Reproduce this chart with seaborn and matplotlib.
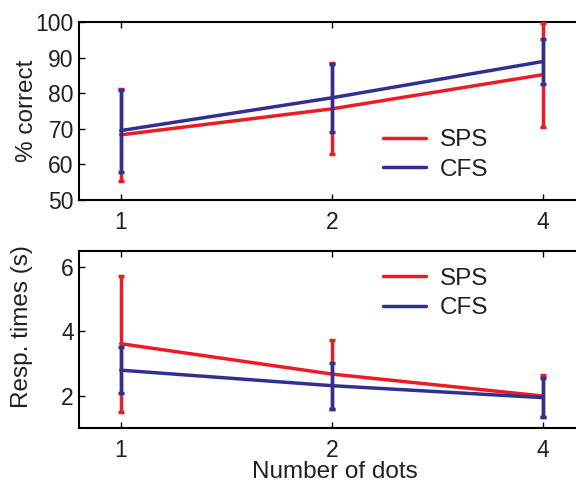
import numpy as np
import pandas as pd
import matplotlib
matplotlib.use("Agg")
import matplotlib.pyplot as plt
import seaborn as sns

# ---- data ----
dots = [1, 2, 4]
conditions = ["SPS", "CFS"]
acc_sps = [68.3, 75.6, 85.2]
acc_sps_err = [12.9, 12.8, 14.6]
acc_cfs = [69.5, 78.7, 88.9]
acc_cfs_err = [11.5, 9.5, 6.2]
rt_sps = [3.62, 2.68, 2.00]
rt_sps_err = [2.10, 1.07, 0.64]
rt_cfs = [2.80, 2.32, 1.95]
rt_cfs_err = [0.71, 0.71, 0.60]
xtick_labels = ["1", "2", "4"]

colors = {"SPS": "#ED1C24", "CFS": "#2E3192"}
TXT = "#231f20"
FS_TICK = 16.5
FS_LAB = 17.5

sns.set_style("white")
plt.rcParams["font.family"] = ["Liberation Sans", "DejaVu Sans"]
plt.rcParams["text.color"] = TXT
plt.rcParams["axes.labelcolor"] = TXT
plt.rcParams["xtick.color"] = "black"
plt.rcParams["ytick.color"] = "black"

fig = plt.figure(figsize=(5.76, 4.82), dpi=100)
W, H = 576, 482
def pos(l, t, r, b):
    return [l / W, 1 - b / H, (r - l) / W, (b - t) / H]

ax1 = fig.add_axes(pos(78.7, 22, 580, 200))
ax2 = fig.add_axes(pos(78.7, 250.7, 580, 428.3))

def panel(ax, sps, sps_err, cfs, cfs_err):
    df = pd.DataFrame({
        "dots": dots * 2,
        "value": list(sps) + list(cfs),
        "cond": ["SPS"] * 3 + ["CFS"] * 3,
    })
    sns.lineplot(data=df, x="dots", y="value", hue="cond", palette=colors,
                 hue_order=conditions, ax=ax, linewidth=2.5, legend=False)
    for vals, errs, c in [(sps, sps_err, "SPS"), (cfs, cfs_err, "CFS")]:
        ax.errorbar(dots, vals, yerr=errs, fmt="none", ecolor=colors[c],
                    elinewidth=2.5, capsize=2.4, capthick=2.5, zorder=3)
    ax.set_xscale("log")
    ax.set_xlim(0.871, 4.52)
    ax.set_xticks(dots)
    ax.set_xticklabels(xtick_labels)
    ax.minorticks_off()
    ax.tick_params(axis="both", direction="in", length=4, width=1.0,
                   top=True, bottom=True, left=True, labelsize=FS_TICK,
                   labelcolor=TXT)
    ax.tick_params(axis="x", pad=8)
    ax.tick_params(axis="y", pad=3.5)
    for s in ax.spines.values():
        s.set_linewidth(1.5)
        s.set_color("black")
    handles = [plt.Line2D([], [], color=colors[c], lw=2.5) for c in conditions]
    return handles

leg_kw = dict(loc="center left", frameon=False, borderpad=0, borderaxespad=0,
              handlelength=1.75, handletextpad=0.6, labelspacing=0.3,
              fontsize=FS_LAB)

h = panel(ax1, acc_sps, acc_sps_err, acc_cfs, acc_cfs_err)
ax1.set_ylim(50, 100)
ax1.set_yticks([50, 60, 70, 80, 90, 100])
ax1.set_ylabel("% correct", fontsize=FS_LAB)
ax1.yaxis.set_label_coords(-0.082, 0.5)
ax1.set_xlabel("")
ax1.legend(h, conditions, bbox_to_anchor=(0.607, 0.253), **leg_kw)

h = panel(ax2, rt_sps, rt_sps_err, rt_cfs, rt_cfs_err)
ax2.set_ylim(1, 6.5)
ax2.set_yticks([2, 4, 6])
ax2.set_ylabel("Resp. times (s)", fontsize=FS_LAB)
ax2.yaxis.set_label_coords(-0.091, 0.573)
ax2.set_xlabel("Number of dots", fontsize=FS_LAB)
ax2.xaxis.set_label_coords(0.512, -0.183)
ax2.legend(h, conditions, bbox_to_anchor=(0.607, 0.759), **leg_kw)

fig.savefig("out.png", dpi=100)
